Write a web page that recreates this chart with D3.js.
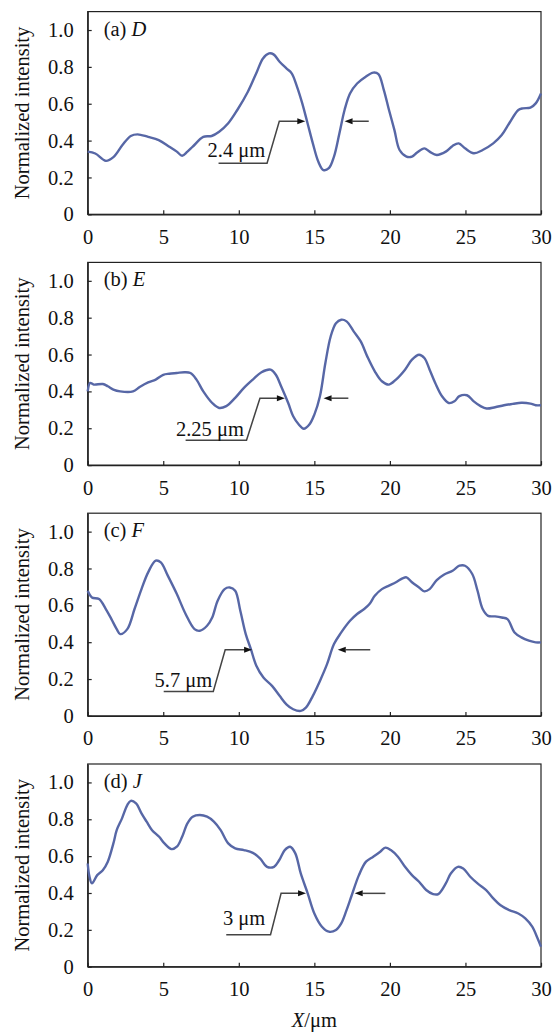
<!DOCTYPE html>
<html>
<head>
<meta charset="utf-8">
<script src="https://cdn.jsdelivr.net/npm/d3@7/dist/d3.min.js"></script>
</head>
<body style="margin:0;padding:0;background:#fff">
<svg id="chart" width="555" height="1033" style="display:block"></svg>
<script>
// ---------- DATA ----------
const panelLetters = ["(a)", "(b)", "(c)", "(d)"];
const panelNames = ["D", "E", "F", "J"];
const xTicks = [0, 5, 10, 15, 20, 25, 30];
const yTicks = [0, 0.2, 0.4, 0.6, 0.8, 1.0];
const yTickLabels = ["0", "0.2", "0.4", "0.6", "0.8", "1.0"];
const xTitle = "X";
const xUnit = "/μm";
const yTitle = "Normalized intensity";

const seriesD = [
  [0,0.34],[0.5,0.33],[1.2,0.29],[1.7,0.31],[2.3,0.376],[2.85,0.425],[3.3,0.434],[4.0,0.42],
  [4.7,0.403],[5.4,0.367],[5.9,0.34],[6.25,0.318],[6.6,0.34],[6.95,0.367],[7.65,0.42],[8.2,0.425],
  [8.7,0.448],[9.3,0.494],[9.9,0.566],[10.6,0.665],[11.2,0.774],[11.6,0.846],[12.0,0.873],[12.3,0.868],
  [12.7,0.828],[13.15,0.792],[13.5,0.765],[13.85,0.693],[14.2,0.602],[14.55,0.494],[14.9,0.385],
  [15.26,0.286],[15.6,0.24],[15.96,0.25],[16.3,0.313],[16.66,0.44],[17.0,0.566],[17.36,0.656],
  [17.83,0.71],[18.4,0.747],[18.9,0.769],[19.24,0.761],[19.6,0.674],[19.94,0.566],[20.3,0.457],
  [20.64,0.349],[21.1,0.313],[21.46,0.313],[21.8,0.335],[22.28,0.358],[22.63,0.34],[23.1,0.322],
  [23.7,0.34],[24.15,0.371],[24.55,0.385],[24.97,0.358],[25.55,0.331],[26.14,0.349],[26.84,0.385],
  [27.4,0.43],[27.9,0.494],[28.5,0.566],[28.8,0.575],[29.3,0.579],[29.65,0.602],[30,0.656]
];
const seriesE = [
  [0,0.40],[0.16,0.446],[0.4,0.437],[1.0,0.44],[1.33,0.428],[1.7,0.41],[2.15,0.40],[3.0,0.40],
  [3.44,0.424],[4.0,0.449],[4.5,0.464],[5.0,0.49],[5.4,0.496],[5.9,0.50],[6.4,0.504],[6.8,0.50],
  [7.2,0.464],[7.65,0.40],[8.24,0.337],[8.7,0.31],[9.17,0.32],[9.76,0.365],[10.34,0.419],[10.93,0.464],
  [11.5,0.504],[12.1,0.518],[12.45,0.49],[12.8,0.428],[13.27,0.337],[13.6,0.265],[13.97,0.22],
  [14.3,0.197],[14.67,0.22],[15.0,0.274],[15.37,0.374],[15.73,0.554],[16.08,0.698],[16.43,0.77],
  [16.78,0.789],[17.13,0.78],[17.6,0.726],[18.07,0.671],[18.5,0.59],[19.0,0.509],[19.47,0.455],
  [19.94,0.437],[20.4,0.464],[21.0,0.518],[21.46,0.572],[21.93,0.599],[22.28,0.581],[22.63,0.518],
  [23.0,0.446],[23.45,0.374],[23.9,0.337],[24.27,0.346],[24.6,0.374],[25.1,0.379],[25.55,0.346],
  [26.0,0.32],[26.4,0.307],[26.96,0.314],[27.55,0.325],[28.13,0.332],[28.7,0.338],[29.3,0.334],
  [29.65,0.325],[30,0.325]
];
const seriesF = [
  [0,0.679],[0.28,0.643],[0.75,0.634],[1.2,0.58],[1.57,0.525],[1.92,0.471],[2.15,0.444],[2.62,0.471],
  [3.1,0.58],[3.56,0.688],[4.0,0.779],[4.5,0.842],[4.84,0.833],[5.3,0.761],[5.9,0.661],[6.48,0.553],
  [7.07,0.471],[7.42,0.462],[7.9,0.489],[8.24,0.534],[8.6,0.625],[9.06,0.688],[9.4,0.697],[9.76,0.679],
  [10.1,0.571],[10.46,0.444],[10.8,0.362],[11.16,0.272],[11.63,0.208],[12.2,0.163],[12.7,0.109],
  [13.15,0.063],[13.6,0.036],[14.1,0.027],[14.44,0.045],[14.9,0.109],[15.37,0.19],[15.84,0.281],
  [16.3,0.39],[16.78,0.453],[17.36,0.516],[17.83,0.553],[18.3,0.58],[18.65,0.607],[19.0,0.652],
  [19.47,0.688],[19.94,0.707],[20.4,0.725],[20.87,0.748],[21.1,0.752],[21.46,0.725],[21.93,0.697],
  [22.28,0.676],[22.63,0.688],[23.1,0.737],[23.57,0.766],[24.15,0.788],[24.6,0.815],[24.97,0.815],
  [25.45,0.77],[25.8,0.679],[26.14,0.58],[26.5,0.543],[26.96,0.54],[27.4,0.534],[27.78,0.525],
  [28.25,0.453],[28.7,0.426],[29.2,0.408],[29.65,0.399],[30,0.399]
];
const seriesJ = [
  [0,0.56],[0.12,0.488],[0.28,0.452],[0.63,0.497],[1.0,0.524],[1.33,0.57],[1.7,0.669],[1.92,0.741],
  [2.27,0.805],[2.62,0.877],[2.85,0.9],[3.2,0.886],[3.56,0.832],[3.9,0.787],[4.26,0.741],[4.73,0.705],
  [5.08,0.669],[5.55,0.638],[5.9,0.651],[6.25,0.705],[6.6,0.778],[6.95,0.814],[7.42,0.823],[7.9,0.814],
  [8.35,0.787],[8.8,0.741],[9.3,0.669],[9.76,0.642],[10.34,0.633],[10.93,0.618],[11.4,0.588],
  [11.87,0.542],[12.33,0.542],[12.68,0.579],[13.04,0.633],[13.4,0.651],[13.74,0.615],[14.1,0.506],
  [14.56,0.398],[15.0,0.289],[15.5,0.217],[15.96,0.19],[16.43,0.199],[16.78,0.235],[17.13,0.307],
  [17.48,0.389],[17.95,0.497],[18.42,0.57],[18.9,0.597],[19.36,0.624],[19.7,0.646],[20.06,0.633],
  [20.53,0.597],[21.0,0.542],[21.46,0.497],[21.93,0.461],[22.4,0.416],[22.86,0.394],[23.2,0.394],
  [23.7,0.452],[24.03,0.506],[24.5,0.542],[24.85,0.533],[25.32,0.488],[25.8,0.452],[26.37,0.416],
  [26.84,0.371],[27.3,0.335],[27.9,0.307],[28.5,0.289],[28.96,0.262],[29.42,0.217],[29.77,0.154],
  [30,0.108]
];
const allSeries = [seriesD, seriesE, seriesF, seriesJ];

// FWHM annotations (data units): label text, leader/arrow geometry
const annLabels = ["2.4 μm", "2.25 μm", "5.7 μm", "3 μm"];
const annArrowY   = [0.505, 0.363, 0.359, 0.398];
const annBendTopX = [12.68, 11.40, 9.10, 12.80];
const annLeftTipX = [14.40, 13.05, 10.88, 14.45];
const annBendBotX = [11.87, 10.51, 8.31, 12.10];
const annBotY     = [0.277, 0.135, 0.132, 0.174];
const annLeaderX  = [8.66, 6.48, 5.03, 9.17];
const annRightTipX  = [17.00, 15.61, 16.55, 17.67];
const annRightTailX = [18.60, 17.25, 18.70, 19.70];
const annTextEndX = [11.75, 10.34, 8.24, 11.75];
const annTextY    = [0.313, 0.158, 0.156, 0.225];

// ---------- LAYOUT ----------
const FONT = '"Liberation Serif"';
const svg = d3.select("#chart").style("font-family", FONT);
const plotLeft = 87.7, plotRight = 541;
const firstBottom = 214.3, panelStep = 250.8, plotH = 202.7;
const lineColor = "#5767a6";
const fontSize = "20.5px";

const txt = sel => sel.style("font-family", FONT).style("font-size", fontSize).attr("fill", "#111");

const x = d3.scaleLinear().domain([0, 30]).range([plotLeft, plotRight]);

allSeries.forEach((data, i) => {
  const bottom = firstBottom + i * panelStep;
  const top = bottom - plotH;
  const y = d3.scaleLinear().domain([0, 1.1]).range([bottom, top]);
  const g = svg.append("g");

  // frame
  g.append("rect")
    .attr("x", plotLeft).attr("y", top)
    .attr("width", plotRight - plotLeft).attr("height", plotH)
    .attr("fill", "none").attr("stroke", "#222").attr("stroke-width", 1.2);

  // x axis
  const xAxis = d3.axisBottom(x).tickValues(xTicks).tickFormat(d3.format("d"))
    .tickSizeInner(-4).tickSizeOuter(0).tickPadding(15);
  const gx = g.append("g").attr("transform", `translate(0,${bottom})`).call(xAxis);
  gx.attr("font-family", null).attr("font-size", null);
  gx.select(".domain").attr("stroke", "#222").attr("stroke-width", 1.2);
  gx.selectAll(".tick line").attr("stroke", "#222").attr("stroke-width", 1.2);
  gx.selectAll(".tick text").call(txt);

  // y axis
  const yAxis = d3.axisLeft(y).tickValues(yTicks).tickFormat((d, k) => yTickLabels[k])
    .tickSizeInner(-4).tickSizeOuter(0).tickPadding(14);
  const gy = g.append("g").attr("transform", `translate(${plotLeft},0)`).call(yAxis);
  gy.attr("font-family", null).attr("font-size", null);
  gy.select(".domain").attr("stroke", "#222").attr("stroke-width", 1.2);
  gy.selectAll(".tick line").attr("stroke", "#222").attr("stroke-width", 1.2);
  gy.selectAll(".tick text").call(txt);

  // y title
  g.append("text")
    .attr("transform", `translate(22,${(top + bottom) / 2}) rotate(-90)`)
    .attr("text-anchor", "middle").attr("dominant-baseline", "central")
    .call(txt).text(yTitle);

  // panel label
  const lab = g.append("text").attr("x", plotLeft + 16).attr("y", top + 24).call(txt);
  lab.append("tspan").text(panelLetters[i] + " ");
  lab.append("tspan").style("font-style", "italic").text(panelNames[i]);

  // curve
  g.append("path").datum(data)
    .attr("fill", "none").attr("stroke", lineColor).attr("stroke-width", 2.4)
    .attr("stroke-linejoin", "round")
    .attr("d", d3.line().x(d => x(d[0])).y(d => y(d[1])).curve(d3.curveCatmullRom.alpha(0.5)));

  // annotation leader
  const ay = y(annArrowY[i]);
  g.append("path")
    .attr("d", d3.line()([
      [x(annLeaderX[i]), y(annBotY[i])],
      [x(annBendBotX[i]), y(annBotY[i])],
      [x(annBendTopX[i]), ay],
      [x(annLeftTipX[i]) - 7, ay]
    ]))
    .attr("fill", "none").attr("stroke", "#444").attr("stroke-width", 1.5);

  // arrowheads
  const head = (tipX, dir) => {
    const tx = x(tipX);
    return `M${tx},${ay} L${tx - dir * 8},${ay - 3} L${tx - dir * 8},${ay + 3} Z`;
  };
  g.append("path").attr("d", head(annLeftTipX[i], 1)).attr("fill", "#111");
  g.append("path").attr("d", head(annRightTipX[i], -1)).attr("fill", "#111");
  g.append("line")
    .attr("x1", x(annRightTailX[i])).attr("x2", x(annRightTipX[i]) + 7)
    .attr("y1", ay).attr("y2", ay)
    .attr("stroke", "#444").attr("stroke-width", 1.5);

  // annotation text
  g.append("text").attr("x", x(annTextEndX[i])).attr("y", y(annTextY[i]))
    .attr("text-anchor", "end").call(txt).text(annLabels[i]);
});

// x title
const xt = svg.append("text").attr("x", (plotLeft + plotRight) / 2).attr("y", 1027)
  .attr("text-anchor", "middle").call(txt);
xt.append("tspan").style("font-style", "italic").text(xTitle);
xt.append("tspan").text(xUnit);
</script>
</body>
</html>
